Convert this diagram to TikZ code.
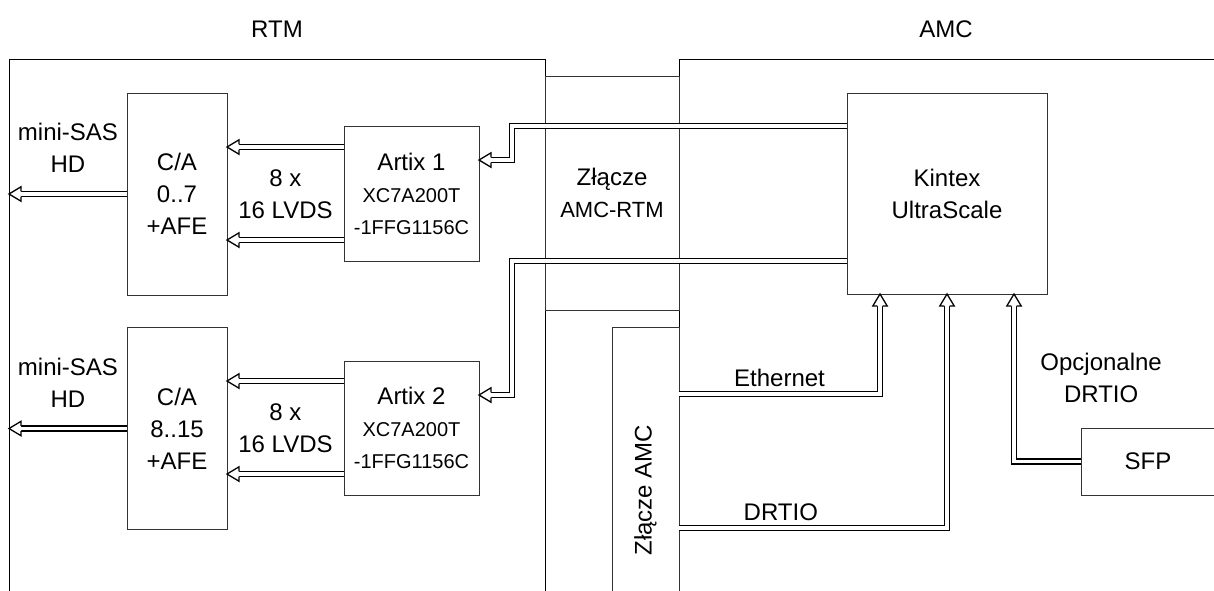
\documentclass[tikz,border=0pt]{standalone}
\usepackage{fontspec}
\setmainfont{Liberation Sans}
\usetikzlibrary{arrows.meta,calc,positioning,decorations.markings}
\newcommand\drobne{\fontsize{10}{16}\selectfont}

\begin{document}
\begin{tikzpicture}[x=0.5pt,y=-0.5pt,
    font=\fontsize{12}{16}\selectfont,
    blok/.style={draw=black!80,line width=0.5pt,inner sep=0pt,outer sep=0pt,align=center},
    bus/.style={double=white,double distance=1.8pt,line width=0.75pt,shorten >=6pt,
      postaction={decorate,decoration={markings,mark=at position 1 with
        {\fill[white] (0,0)--(-6pt,3.6pt)--(-6pt,-3.6pt)--cycle;
         \draw[black,line width=0.65pt,shorten >=0pt,line join=miter]
           (-6pt,1.3pt)--(-6pt,3.6pt)--(0,0)--(-6pt,-3.6pt)--(-6pt,-1.3pt);}}}}]
      \useasboundingbox (0,0) rectangle (1214,590);
      \clip (0,0) rectangle (1214,590);
      \draw[line width=0.5pt] (9,600)--(9,59)--(545,59)--(545,600);
      \draw[line width=0.5pt] (679,600)--(679,59)--(1220,59);
      \coordinate (rtmL) at (9,300);
      \node (rtm) at (277,29) {RTM};
      \node (amc) at (946,29) {AMC};
      \node[blok,minimum width=50pt,minimum height=101pt] (ca1) at (177,194) {C/A\\0..7\\+AFE};
      \node[blok,minimum width=50pt,minimum height=101pt] (ca2) at (177,428.5) {C/A\\8..15\\+AFE};
      \node[blok,minimum width=67.5pt,minimum height=67.5pt] (art1) at (411.5,193.5)
        {Artix 1\\{\drobne XC7A200T}\\{\drobne -1FFG1156C}};
      \node[blok,minimum width=67.5pt,minimum height=67pt] (art2) at (411.5,428)
        {Artix 2\\{\drobne XC7A200T}\\{\drobne -1FFG1156C}};
      \node[blok,minimum width=67pt,minimum height=117pt] (zrtm) at (612,193)
        {Złącze\\{\fontsize{11}{16}\selectfont AMC-RTM}};
      \node[blok,minimum width=33.5pt,minimum height=163pt] (zamc) at (645.5,490) {};
      \node[rotate=90] (zamcL) at (zamc.center) {Złącze AMC};
      \node[blok,minimum width=100pt,minimum height=100.5pt] (kintex) at (947,193.5) {Kintex\\UltraScale};
      \node[blok,minimum width=67pt,minimum height=33.5pt] (sfp) at (1148,461.5) {SFP};
      \node[align=center] (lvds1) at ($(ca1.east)!0.5!(art1.west)$) {8 x\\16 LVDS};
      \node[align=center] (lvds2) at ($(ca2.east)!0.5!(art2.west)$) {8 x\\16 LVDS};
      \draw[bus] ([yshift=-10.5pt]art1.north west) -- ([yshift=-10.5pt]art1.north west -| ca1.east);
      \draw[bus] ([yshift=10.5pt]art1.south west) -- ([yshift=10.5pt]art1.south west -| ca1.east);
      \draw[bus] ([yshift=-10pt]art2.north west) -- ([yshift=-10pt]art2.north west -| ca2.east);
      \draw[bus] ([yshift=10.5pt]art2.south west) -- ([yshift=10.5pt]art2.south west -| ca2.east);
      \draw[bus] (ca1.west) -- node[above=7pt,align=center] {mini-SAS\\HD} (ca1.west -| rtmL);
      \draw[bus] (ca2.west) -- node[above=7pt,align=center] {mini-SAS\\HD} (ca2.west -| rtmL);
      \draw[bus] ([yshift=-16.5pt]kintex.north west) -| ([xshift=16.5pt,yshift=-17pt]art1.north east)
        -- ([yshift=-17pt]art1.north east);
      \draw[bus] ([yshift=16.5pt]kintex.south west) -| ([xshift=16.5pt,yshift=-17pt]art2.north east)
        -- ([yshift=-17pt]art2.north east);
      \draw[bus] ([yshift=-33.5pt]zamc.north east) -| node[pos=0.25,above] {Ethernet}
        ([xshift=16.5pt]kintex.south west);
      \draw[bus] ([yshift=-100.5pt]zamc.north east) -| node[pos=0.19,above] {DRTIO} (kintex.south);
      \draw[bus] (sfp.west) -| node[pos=0.75,right=9.5pt,align=center] {Opcjonalne\\DRTIO}
        ([xshift=-16.5pt]kintex.south east);
    \end{tikzpicture}
\end{document}
